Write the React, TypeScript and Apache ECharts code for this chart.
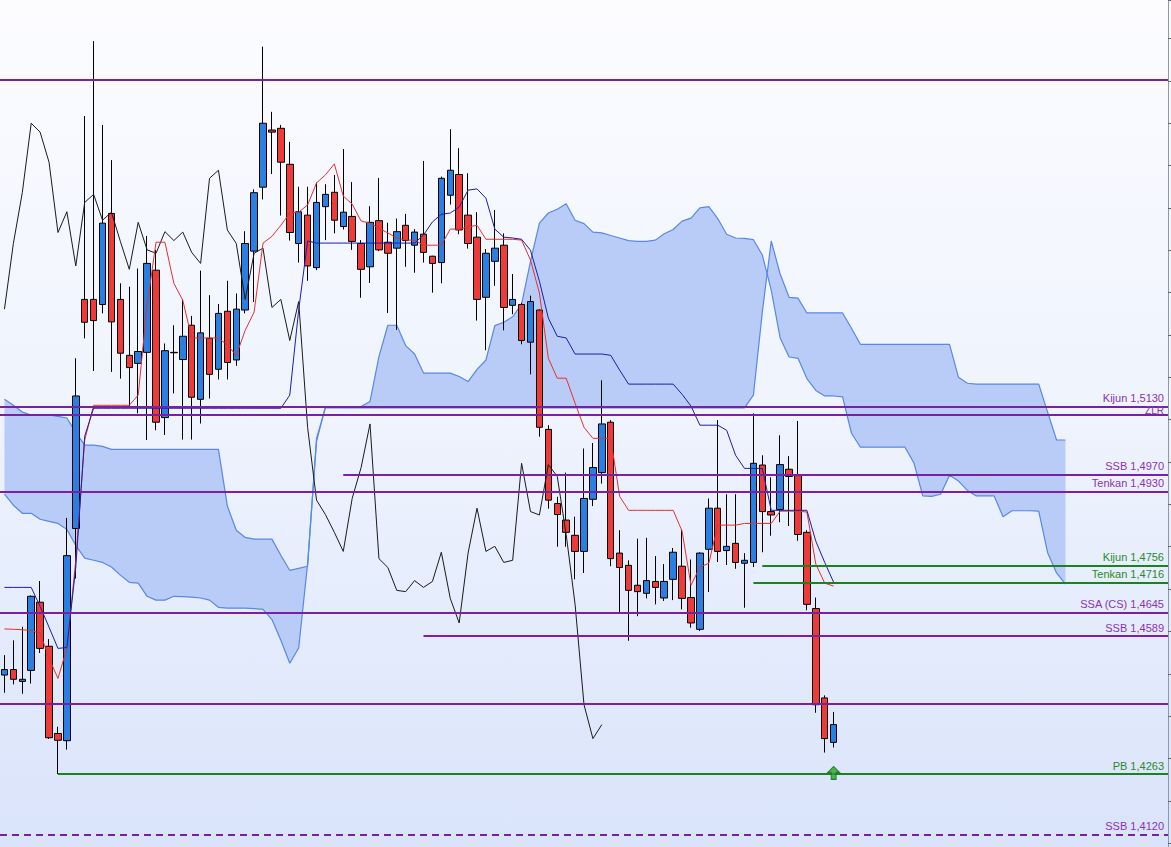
import React, { useEffect, useRef } from 'react';
import * as echarts from 'echarts';

// number of time slots on the x axis (candles + 26 projected cloud periods + margin)
const TOTAL_SLOTS = 131;

// candles: [open, close, low, high]
const ohlc: number[][] = [
  [1.4497, 1.4510, 1.4455, 1.4544], [1.4510, 1.4487, 1.4475, 1.4579], [1.4482, 1.4487, 1.4453, 1.4611],
  [1.4508, 1.4683, 1.4477, 1.4685], [1.4669, 1.4560, 1.4549, 1.4719], [1.4565, 1.4349, 1.4346, 1.4582],
  [1.4359, 1.4343, 1.4263, 1.4375], [1.4342, 1.4779, 1.4321, 1.4868], [1.4843, 1.5156, 1.4725, 1.5245],
  [1.5384, 1.5330, 1.5292, 1.5817], [1.5384, 1.5334, 1.5215, 1.5994], [1.5372, 1.5564, 1.5351, 1.5796],
  [1.5587, 1.5331, 1.5213, 1.5713], [1.5384, 1.5257, 1.5197, 1.5422], [1.5252, 1.5223, 1.5130, 1.5414],
  [1.5233, 1.5261, 1.5115, 1.5457], [1.5259, 1.5469, 1.5052, 1.5534], [1.5453, 1.5094, 1.5075, 1.5501],
  [1.5105, 1.5263, 1.5064, 1.5280], [1.5259, 1.5258, 1.5162, 1.5323], [1.5242, 1.5297, 1.5053, 1.5384],
  [1.5323, 1.5153, 1.5053, 1.5345], [1.5148, 1.5305, 1.5091, 1.5452], [1.5292, 1.5207, 1.5150, 1.5394],
  [1.5219, 1.5351, 1.5195, 1.5373], [1.5356, 1.5235, 1.5195, 1.5428], [1.5241, 1.5361, 1.5227, 1.5398],
  [1.5359, 1.5516, 1.5351, 1.5545], [1.5498, 1.5636, 1.5378, 1.5644], [1.5649, 1.5800, 1.5620, 1.5981],
  [1.5784, 1.5779, 1.5680, 1.5827], [1.5788, 1.5708, 1.5582, 1.5796], [1.5703, 1.5542, 1.5523, 1.5756],
  [1.5516, 1.5591, 1.5471, 1.5650], [1.5583, 1.5463, 1.5428, 1.5650], [1.5459, 1.5613, 1.5453, 1.5660],
  [1.5603, 1.5632, 1.5524, 1.5656], [1.5637, 1.5571, 1.5540, 1.5678], [1.5556, 1.5590, 1.5549, 1.5739],
  [1.5580, 1.5521, 1.5501, 1.5661], [1.5516, 1.5455, 1.5388, 1.5524], [1.5461, 1.5566, 1.5423, 1.5604],
  [1.5570, 1.5501, 1.5498, 1.5671], [1.5519, 1.5493, 1.5352, 1.5565], [1.5505, 1.5544, 1.5312, 1.5575],
  [1.5559, 1.5523, 1.5461, 1.5586], [1.5512, 1.5543, 1.5447, 1.5550], [1.5538, 1.5495, 1.5471, 1.5711],
  [1.5486, 1.5469, 1.5400, 1.5487], [1.5471, 1.5670, 1.5422, 1.5674], [1.5630, 1.5689, 1.5608, 1.5786],
  [1.5679, 1.5548, 1.5538, 1.5741], [1.5583, 1.5516, 1.5504, 1.5682], [1.5531, 1.5384, 1.5334, 1.5590],
  [1.5389, 1.5493, 1.5264, 1.5503], [1.5474, 1.5505, 1.5416, 1.5595], [1.5512, 1.5365, 1.5311, 1.5540],
  [1.5370, 1.5384, 1.5349, 1.5444], [1.5372, 1.5287, 1.5278, 1.5376], [1.5283, 1.5379, 1.5207, 1.5393],
  [1.5359, 1.5082, 1.5060, 1.5360], [1.5077, 1.4910, 1.4890, 1.5087], [1.4902, 1.4876, 1.4800, 1.4918],
  [1.4863, 1.4834, 1.4800, 1.4975], [1.4827, 1.4789, 1.4723, 1.4871], [1.4789, 1.4914, 1.4738, 1.5032],
  [1.4912, 1.4987, 1.4896, 1.5045], [1.4975, 1.5090, 1.4949, 1.5193], [1.5094, 1.4772, 1.4754, 1.5099],
  [1.4785, 1.4751, 1.4646, 1.4839], [1.4756, 1.4697, 1.4578, 1.4768], [1.4709, 1.4694, 1.4636, 1.4819],
  [1.4690, 1.4720, 1.4678, 1.4821], [1.4718, 1.4704, 1.4664, 1.4778], [1.4679, 1.4718, 1.4672, 1.4759],
  [1.4723, 1.4787, 1.4674, 1.4797], [1.4754, 1.4678, 1.4652, 1.4841], [1.4680, 1.4620, 1.4609, 1.4770],
  [1.4605, 1.4785, 1.4601, 1.4787], [1.4794, 1.4891, 1.4693, 1.4914], [1.4891, 1.4789, 1.4764, 1.5099],
  [1.4791, 1.4801, 1.4757, 1.4924], [1.4808, 1.4763, 1.4748, 1.4924], [1.4761, 1.4768, 1.4656, 1.4785],
  [1.4763, 1.4997, 1.4752, 1.5115], [1.4993, 1.4883, 1.4787, 1.5016], [1.4883, 1.4875, 1.4826, 1.4964],
  [1.4888, 1.4994, 1.4858, 1.5063], [1.4983, 1.4966, 1.4849, 1.5014], [1.4968, 1.4829, 1.4814, 1.5097],
  [1.4834, 1.4664, 1.4650, 1.4839], [1.4654, 1.4427, 1.4408, 1.4680], [1.4443, 1.4347, 1.4314, 1.4449],
  [1.4338, 1.4380, 1.4326, 1.4410],
];

const tenkan: number[] = [
  1.4606, 1.4605, 1.4604, 1.4602, 1.4596, 1.4537, 1.4489, 1.4560, 1.4768, 1.5052,
  1.5134, 1.5134, 1.5134, 1.5134, 1.5134, 1.5158, 1.5370, 1.5519, 1.5519, 1.5422,
  1.5382, 1.5293, 1.5293, 1.5293, 1.5293, 1.5276, 1.5252, 1.5311, 1.5354, 1.5517,
  1.5533, 1.5559, 1.5588, 1.5590, 1.5607, 1.5659, 1.5678, 1.5704, 1.5628, 1.5609,
  1.5569, 1.5564, 1.5552, 1.5541, 1.5529, 1.5524, 1.5524, 1.5512, 1.5512, 1.5512,
  1.5550, 1.5550, 1.5555, 1.5559, 1.5526, 1.5526, 1.5526, 1.5526, 1.5524, 1.5477,
  1.5399, 1.5245, 1.5198, 1.5198, 1.5139, 1.5082, 1.5056, 1.5056, 1.5056, 1.4919,
  1.4886, 1.4886, 1.4886, 1.4886, 1.4886, 1.4886, 1.4837, 1.4709, 1.4752, 1.4761,
  1.4851, 1.4851, 1.4851, 1.4855, 1.4855, 1.4855, 1.4855, 1.4884, 1.4884, 1.4884,
  1.4882, 1.4759, 1.4714, 1.4707,
];

const kijun: number[] = [
  1.4704, 1.4704, 1.4704, 1.4704, 1.4659, 1.4610, 1.4560, 1.4562, 1.4752, 1.5061,
  1.5127, 1.5127, 1.5127, 1.5127, 1.5127, 1.5127, 1.5127, 1.5127, 1.5127, 1.5127,
  1.5127, 1.5127, 1.5127, 1.5127, 1.5127, 1.5127, 1.5127, 1.5127, 1.5127, 1.5127,
  1.5127, 1.5127, 1.5158, 1.5359, 1.5522, 1.5517, 1.5517, 1.5517, 1.5517, 1.5517,
  1.5517, 1.5517, 1.5517, 1.5517, 1.5517, 1.5517, 1.5517, 1.5536, 1.5567, 1.5585,
  1.5588, 1.5602, 1.5642, 1.5645, 1.5623, 1.5550, 1.5531, 1.5529, 1.5526, 1.5500,
  1.5427, 1.5340, 1.5297, 1.5293, 1.5255, 1.5255, 1.5255, 1.5255, 1.5252, 1.5217,
  1.5184, 1.5184, 1.5184, 1.5184, 1.5184, 1.5184, 1.5160, 1.5132, 1.5087, 1.5087,
  1.5087, 1.5075, 1.5016, 1.4985, 1.4985, 1.4985, 1.4886, 1.4886, 1.4886, 1.4886,
  1.4886, 1.4813, 1.4763, 1.4716,
];

const spanA: number[] = [
  1.4924, 1.4898, 1.4879, 1.4879, 1.4865, 1.4860, 1.4855, 1.4841, 1.4803, 1.4773,
  1.4768, 1.4763, 1.4752, 1.4733, 1.4716, 1.4714, 1.4683, 1.4674, 1.4674, 1.4683,
  1.4682, 1.4681, 1.4679, 1.4674, 1.4657, 1.4655, 1.4655, 1.4655, 1.4654, 1.4652,
  1.4628, 1.4579, 1.4525, 1.4561, 1.4760, 1.5048, 1.5131, 1.5131, 1.5131, 1.5131,
  1.5131, 1.5143, 1.5249, 1.5323, 1.5323, 1.5275, 1.5255, 1.5210, 1.5210, 1.5210,
  1.5210, 1.5202, 1.5190, 1.5219, 1.5241, 1.5322, 1.5330, 1.5343, 1.5373, 1.5474,
  1.5564, 1.5588, 1.5597, 1.5610, 1.5571, 1.5563, 1.5543, 1.5541, 1.5535, 1.5529,
  1.5523, 1.5521, 1.5521, 1.5524, 1.5539, 1.5549, 1.5569, 1.5576, 1.5600, 1.5603,
  1.5575, 1.5538, 1.5529, 1.5528, 1.5525, 1.5489, 1.5406, 1.5293, 1.5248, 1.5245,
  1.5197, 1.5169, 1.5156, 1.5156, 1.5154, 1.5068, 1.5035, 1.5035, 1.5035, 1.5035,
  1.5035, 1.5035, 1.4998, 1.4920, 1.4919, 1.4924, 1.4969, 1.4955, 1.4933, 1.4920,
  1.4920, 1.4920, 1.4871, 1.4885, 1.4885, 1.4885, 1.4884, 1.4786, 1.4738, 1.4712,
];

const spanB: number[] = [
  1.5148, 1.5134, 1.5118, 1.5111, 1.5111, 1.5111, 1.5108, 1.5104, 1.5070, 1.5040,
  1.5040, 1.5037, 1.5030, 1.5030, 1.5030, 1.5030, 1.5030, 1.5030, 1.5030, 1.5030,
  1.5030, 1.5030, 1.5030, 1.5030, 1.5030, 1.4896, 1.4839, 1.4822, 1.4818, 1.4818,
  1.4818, 1.4780, 1.4744, 1.4749, 1.4754, 1.5056, 1.5128, 1.5128, 1.5128, 1.5128,
  1.5128, 1.5128, 1.5128, 1.5128, 1.5128, 1.5128, 1.5128, 1.5128, 1.5128, 1.5128,
  1.5128, 1.5128, 1.5128, 1.5128, 1.5128, 1.5128, 1.5128, 1.5128, 1.5128, 1.5128,
  1.5128, 1.5128, 1.5128, 1.5128, 1.5128, 1.5128, 1.5128, 1.5128, 1.5128, 1.5128,
  1.5128, 1.5128, 1.5128, 1.5128, 1.5128, 1.5128, 1.5128, 1.5128, 1.5128, 1.5128,
  1.5128, 1.5128, 1.5128, 1.5128, 1.5158, 1.5354, 1.5522, 1.5444, 1.5389, 1.5387,
  1.5352, 1.5352, 1.5352, 1.5352, 1.5352, 1.5316, 1.5278, 1.5278, 1.5278, 1.5278,
  1.5278, 1.5278, 1.5278, 1.5278, 1.5278, 1.5278, 1.5278, 1.5200, 1.5186, 1.5184,
  1.5184, 1.5184, 1.5184, 1.5184, 1.5184, 1.5184, 1.5184, 1.5118, 1.5052, 1.5052,
];

// lagging span is the close plotted 26 periods back
const CHIKOU_SHIFT = 26;

// horizontal levels
const levelValues = [1.5902, 1.5130, 1.5111, 1.4970, 1.4930, 1.4756, 1.4716, 1.4645, 1.4589, 1.4430, 1.4263, 1.4120];
const levelLabels = ['', 'Kijun 1,5130', 'ZLR', 'SSB 1,4970', 'Tenkan 1,4930', 'Kijun 1,4756', 'Tenkan 1,4716', 'SSA (CS) 1,4645', 'SSB 1,4589', '', 'PB 1,4263', 'SSB 1,4120'];
const levelStarts = [-0.5, -0.5, -0.5, 38, -0.5, 85, 84, -0.5, 47, -0.5, 6, -0.5];
const levelGreen = [false, false, false, false, false, true, true, false, false, false, true, false];
const levelDashed = [false, false, false, false, false, false, false, false, false, false, false, true];

// buy-signal arrow under the last candle
const arrowPoint = [93, 1.4266];

const Y_MIN = 1.4091;
const Y_MAX = 1.6091;

const PURPLE = '#7a1fa6';
const PURPLE_TEXT = '#8b32b9';
const GREEN = '#17861a';
const GREEN_TEXT = '#2a8a2a';
const FONT = 'Arial, "Liberation Sans", sans-serif';

export default function App() {
  const ref = useRef<HTMLDivElement>(null);

  useEffect(() => {
    if (!ref.current) return;
    const chart = echarts.init(ref.current, null, { renderer: 'svg' });
    const cats = Array.from({ length: TOTAL_SLOTS }, (_, i) => String(i));
    const closes = ohlc.map((c) => c[1]);
    const chikou = closes.slice(CHIKOU_SHIFT);

    const cloudSeries = {
      type: 'custom',
      xAxisIndex: 0,
      yAxisIndex: 0,
      silent: true,
      z: 1,
      data: [[0, spanA[0]]],
      renderItem: (_params: any, api: any) => {
        const pts: number[][] = [];
        for (let i = 0; i < spanA.length; i++) pts.push(api.coord([i, spanA[i]]));
        for (let i = spanB.length - 1; i >= 0; i--) pts.push(api.coord([i, spanB[i]]));
        return {
          type: 'polygon',
          shape: { points: pts },
          style: { fill: '#b9ccf7', stroke: null },
        };
      },
    };

    const edgeLine = (data: number[]) => ({
      type: 'line',
      data,
      symbol: 'none',
      silent: true,
      z: 2,
      lineStyle: { color: '#5a88e4', width: 1.2 },
    });

    const markData = levelValues.map((v, k) => {
      const isZlr = levelLabels[k] === 'ZLR';
      return [
        {
          coord: [levelStarts[k], v],
          lineStyle: {
            color: levelGreen[k] ? GREEN : PURPLE,
            width: 2,
            type: levelDashed[k] ? [7, 5] : 'solid',
          },
          label: {
            show: levelLabels[k] !== '',
            formatter: levelLabels[k],
            position: 'insideEndTop',
            distance: isZlr ? [4, 0] : [4, 3],
            color: levelGreen[k] ? GREEN_TEXT : PURPLE_TEXT,
            fontSize: isZlr ? 10 : 11,
            lineHeight: isZlr ? 9 : 11,
            fontFamily: FONT,
          },
        },
        { coord: [TOTAL_SLOTS - 0.5, v] },
      ];
    });

    const option: any = {
      animation: false,
      backgroundColor: 'transparent',
      grid: { left: -1, right: 3, top: 0, bottom: 0, containLabel: false },
      xAxis: [
        { type: 'category', data: cats, boundaryGap: true, show: false },
        { type: 'value', min: -0.5, max: TOTAL_SLOTS - 0.5, show: false },
      ],
      yAxis: {
        type: 'value',
        min: Y_MIN,
        max: Y_MAX,
        position: 'right',
        splitNumber: 16,
        axisLine: { show: true, onZero: false, lineStyle: { color: '#8e98ac', width: 1 } },
        axisTick: { show: true, length: 3, lineStyle: { color: '#666' } },
        axisLabel: { show: false },
        splitLine: { show: false },
      },
      series: [
        cloudSeries,
        edgeLine(spanA),
        edgeLine(spanB),
        {
          type: 'candlestick',
          data: ohlc,
          barWidth: 7,
          z: 3,
          itemStyle: {
            color: '#2a7fe2',
            color0: '#f03a3a',
            borderColor: '#000',
            borderColor0: '#000',
            borderWidth: 1,
          },
        },
        {
          type: 'line',
          data: chikou,
          symbol: 'none',
          z: 4,
          lineStyle: { color: '#1a1a1a', width: 1 },
        },
        {
          type: 'line',
          data: tenkan,
          symbol: 'none',
          z: 4,
          lineStyle: { color: '#e8302c', width: 1 },
        },
        {
          type: 'line',
          data: kijun,
          symbol: 'none',
          z: 4,
          lineStyle: { color: '#1c1cb0', width: 1 },
        },
        {
          type: 'line',
          xAxisIndex: 1,
          yAxisIndex: 0,
          data: [[-0.5, levelValues[0]]],
          symbol: 'none',
          silent: true,
          z: 5,
          lineStyle: { opacity: 0 },
          markLine: {
            symbol: ['none', 'none'],
            silent: true,
            animation: false,
            data: markData,
          },
        },
        {
          type: 'scatter',
          data: [arrowPoint],
          symbol: 'path://M6,0 L12,6 L8.5,6 L8.5,13 L3.5,13 L3.5,6 L0,6 Z',
          symbolSize: [12, 13],
          z: 6,
          itemStyle: { color: '#2aa52a', borderColor: '#0d6b0d', borderWidth: 1 },
        },
      ],
    };

    chart.setOption(option);
    return () => chart.dispose();
  }, []);

  return (
    <div
      ref={ref}
      style={{
        position: 'fixed',
        left: 0,
        top: 0,
        width: 1171,
        height: 847,
        background: 'linear-gradient(to bottom, #fcfcff 0%, #eef3fd 50%, #d9e3fa 100%)',
      }}
    />
  );
}
